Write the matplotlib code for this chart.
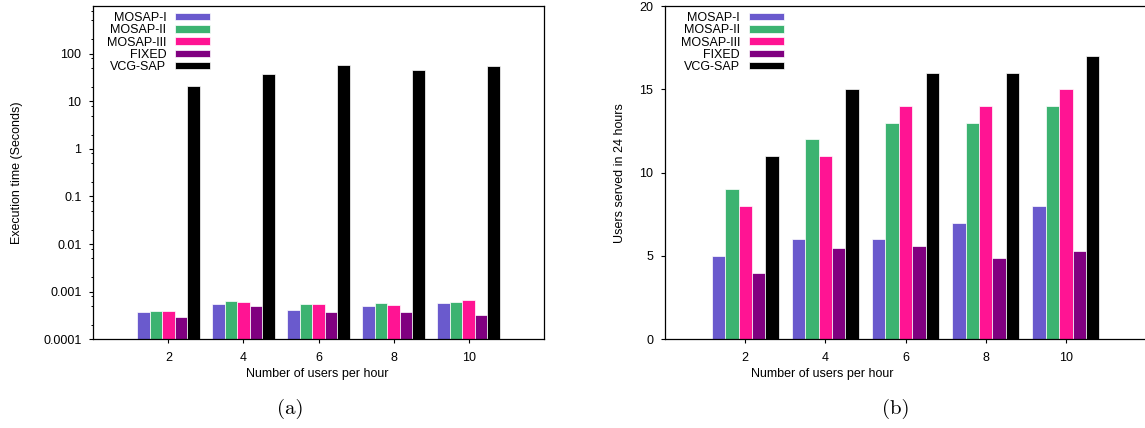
import matplotlib
matplotlib.use('Agg')
import matplotlib.pyplot as plt
from matplotlib.ticker import FixedLocator, NullFormatter

plt.rcParams['font.family'] = ['Liberation Sans', 'DejaVu Sans']

users = [2, 4, 6, 8, 10]
series = ['MOSAP-I', 'MOSAP-II', 'MOSAP-III', 'FIXED', 'VCG-SAP']
colors = ['#6a5acd', '#3cb371', '#ff1493', '#800080', '#000000']

# (a) execution time in seconds
time_mosap1 = [0.00038, 0.00055, 0.00041, 0.00050, 0.00058]
time_mosap2 = [0.00039, 0.00064, 0.00055, 0.00058, 0.00061]
time_mosap3 = [0.00039, 0.00061, 0.00055, 0.00053, 0.00067]
time_fixed = [0.00029, 0.00050, 0.00038, 0.00038, 0.00032]
time_vcg = [21, 38, 57, 45, 54]

# (b) users served in 24 hours
served_mosap1 = [5, 6, 6, 7, 8]
served_mosap2 = [9, 12, 13, 13, 14]
served_mosap3 = [8, 11, 14, 14, 15]
served_fixed = [4, 5.5, 5.6, 4.9, 5.3]
served_vcg = [11, 15, 16, 16, 17]

log_ticks = [0.0001, 0.001, 0.01, 0.1, 1, 10, 100]
log_labels = ['0.0001', '0.001', '0.01', '0.1', '1', '10', '100']

fig = plt.figure(figsize=(11.45, 4.28), dpi=100)
ax1 = fig.add_axes([0.0815, 0.2072, 0.3934, 0.7787])
ax2 = fig.add_axes([0.5808, 0.2072, 0.4201, 0.7787])

w = 1 / 3.


def draw_bars(ax, data):
    for i, (vals, name, c) in enumerate(zip(data, series, colors)):
        xs = [u + (i - 2) * w for u in users]
        ax.bar(xs, vals, width=w, color=c, edgecolor='white', linewidth=0.5, label=name)
    ax.set_xlim(0, 12)
    ax.set_xticks(users)
    ax.tick_params(axis='both', which='major', direction='out', length=3, width=0.8,
                   labelsize=9, top=False, right=False)
    ax.tick_params(axis='x', pad=6)
    ax.tick_params(axis='y', pad=5.5)
    for s in ax.spines.values():
        s.set_linewidth(0.9)
    ax.set_xlabel('Number of users per hour', fontsize=9)
    ax.legend(loc='upper right', markerfirst=False, frameon=False, fontsize=9,
              handlelength=2.8, handleheight=0.54, handletextpad=0.7,
              labelspacing=0.02, borderpad=0, borderaxespad=0)


draw_bars(ax1, [time_mosap1, time_mosap2, time_mosap3, time_fixed, time_vcg])
ax1.set_yscale('log')
ax1.set_ylim(0.0001, 1000)
ax1.yaxis.set_major_locator(FixedLocator(log_ticks))
ax1.set_yticklabels(log_labels)
minor = [m * 10.0 ** e for e in range(-4, 3) for m in (2, 5, 8)]
ax1.yaxis.set_minor_locator(FixedLocator(minor))
ax1.yaxis.set_minor_formatter(NullFormatter())
ax1.tick_params(axis='y', which='minor', direction='out', length=1.8, width=0.7)
ax1.set_ylabel('Execution time (Seconds)', fontsize=9)
ax1.yaxis.set_label_coords(-0.155, 0.5)
ax1.xaxis.set_label_coords(0.498, -0.086)
ax1.get_legend().set_bbox_to_anchor((0.259, 0.982), transform=ax1.transAxes)

draw_bars(ax2, [served_mosap1, served_mosap2, served_mosap3, served_fixed, served_vcg])
ax2.set_ylim(0, 20)
ax2.set_yticks([0, 5, 10, 15, 20])
ax2.set_ylabel('Users served in 24 hours', fontsize=9)
ax2.yaxis.set_label_coords(-0.081, 0.5)
ax2.xaxis.set_label_coords(0.326, -0.086)
ax2.get_legend().set_bbox_to_anchor((0.247, 0.982), transform=ax2.transAxes)

fig.text(290 / 1145., 1 - 409 / 428., '(a)', family='cmr10', fontsize=15, ha='center', va='center')
fig.text(896 / 1145., 1 - 409 / 428., '(b)', family='cmr10', fontsize=15, ha='center', va='center')

plt.savefig('out.png', dpi=100)
